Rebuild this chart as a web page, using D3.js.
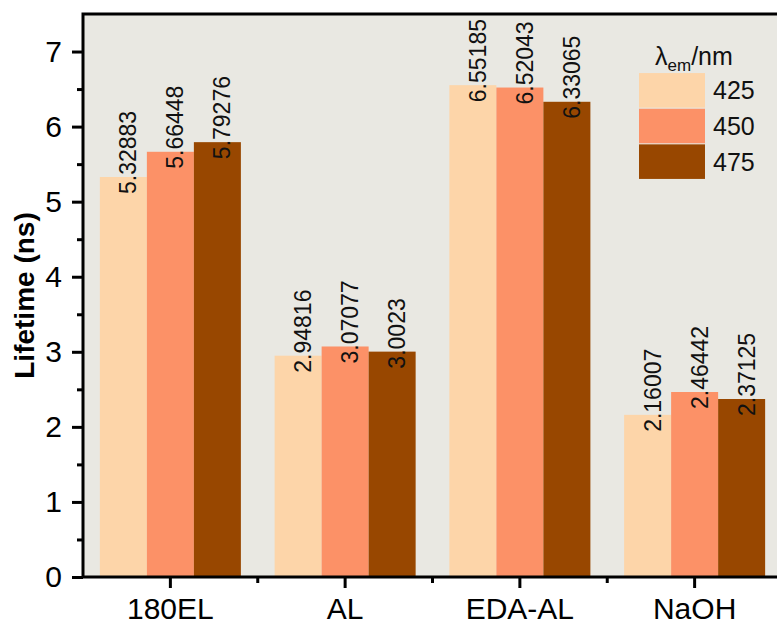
<!DOCTYPE html>
<html>
<head>
<meta charset="utf-8">
<script src="https://cdn.jsdelivr.net/npm/d3@7"></script>
<style>
  html, body { margin: 0; padding: 0; background: #ffffff; }
  svg { display: block; font-family: "Liberation Sans", Arial, Helvetica, sans-serif; }
</style>
</head>
<body>
<svg id="chart" width="777" height="624"></svg>
<script>
// Fluorescence lifetimes per sample at three emission wavelengths
const categories = ["180EL", "AL", "EDA-AL", "NaOH"];
const wavelengths = ["425", "450", "475"];
const lifetime425 = [5.32883, 2.94816, 6.55185, 2.16007];
const lifetime450 = [5.66448, 3.07077, 6.52043, 2.46442];
const lifetime475 = [5.79276, 3.0023, 6.33065, 2.37125];
const labels425 = ["5.32883", "2.94816", "6.55185", "2.16007"];
const labels450 = ["5.66448", "3.07077", "6.52043", "2.46442"];
const labels475 = ["5.79276", "3.0023", "6.33065", "2.37125"];
const yMajorTicks = [0, 1, 2, 3, 4, 5, 6, 7];
const yMinorTicks = [0.5, 1.5, 2.5, 3.5, 4.5, 5.5, 6.5];

const seriesValues = [lifetime425, lifetime450, lifetime475];
const seriesLabels = [labels425, labels450, labels475];
const colors = ["#fdd5a9", "#fc9167", "#984700"];

const svg = d3.select("#chart");
const plot = { left: 83, right: 782, top: 14, bottom: 577 };

const x = d3.scaleBand()
  .domain(categories)
  .range([plot.left, plot.right])
  .paddingInner(0.193)
  .paddingOuter(0.0965);

const xSub = d3.scaleBand()
  .domain(wavelengths)
  .range([0, x.bandwidth()])
  .padding(0);

const y = d3.scaleLinear()
  .domain([0, 7.5])
  .range([plot.bottom, plot.top]);

// plot background
svg.append("rect")
  .attr("x", plot.left).attr("y", plot.top)
  .attr("width", plot.right - plot.left).attr("height", plot.bottom - plot.top)
  .attr("fill", "#e9e8e2");

// bars
const rows = [];
categories.forEach((c, i) => {
  wavelengths.forEach((w, j) => {
    rows.push({ cat: c, wl: w, value: seriesValues[j][i], label: seriesLabels[j][i], color: colors[j] });
  });
});

svg.append("g").selectAll("rect")
  .data(rows)
  .join("rect")
  .attr("x", d => x(d.cat) + xSub(d.wl))
  .attr("y", d => y(d.value))
  .attr("width", xSub.bandwidth())
  .attr("height", d => y(0) - y(d.value))
  .attr("fill", d => d.color);

// rotated value labels
svg.append("g").selectAll("text")
  .data(rows)
  .join("text")
  .attr("transform", d => {
    const cx = x(d.cat) + xSub(d.wl) + xSub.bandwidth() / 2 + 5;
    const cy = y(d.value) + 17;
    return `translate(${cx},${cy}) rotate(-90)`;
  })
  .attr("text-anchor", "start")
  .attr("dominant-baseline", "central")
  .attr("font-size", 23)
  .attr("fill", "#111")
  .text(d => d.label);

// y axis
const yAxis = svg.append("g")
  .attr("transform", `translate(${plot.left},0)`)
  .call(d3.axisLeft(y).tickValues(yMajorTicks).tickSize(11).tickPadding(10).tickFormat(d3.format("d")));
yAxis.selectAll("text").attr("font-size", 30).attr("fill", "#000").attr("font-family", "Liberation Sans, Arial, sans-serif");
yAxis.select(".domain").remove();
yAxis.selectAll("line").attr("stroke", "#000").attr("stroke-width", 3);

const yMinor = svg.append("g")
  .attr("transform", `translate(${plot.left},0)`)
  .call(d3.axisLeft(y).tickValues(yMinorTicks).tickSize(6).tickFormat(""));
yMinor.select(".domain").remove();
yMinor.selectAll("line").attr("stroke", "#000").attr("stroke-width", 3);

// x axis
const xAxis = svg.append("g")
  .attr("transform", `translate(0,${plot.bottom})`)
  .call(d3.axisBottom(x).tickSize(11).tickPadding(10));
xAxis.selectAll("text").attr("font-size", 30).attr("fill", "#000").attr("font-family", "Liberation Sans, Arial, sans-serif");
xAxis.select(".domain").remove();
xAxis.selectAll("line").attr("stroke", "#000").attr("stroke-width", 3);

// minor ticks between categories
const boundaries = categories.slice(1).map(c => x(c) - x.step() * x.paddingInner() / 2);
svg.append("g").selectAll("line")
  .data(boundaries)
  .join("line")
  .attr("x1", d => d).attr("x2", d => d)
  .attr("y1", plot.bottom).attr("y2", plot.bottom + 6)
  .attr("stroke", "#000").attr("stroke-width", 3);

// frame
svg.append("rect")
  .attr("x", plot.left).attr("y", plot.top)
  .attr("width", plot.right - plot.left).attr("height", plot.bottom - plot.top)
  .attr("fill", "none").attr("stroke", "#000").attr("stroke-width", 3);

// y axis title
svg.append("text")
  .attr("transform", `translate(24,${(plot.top + plot.bottom) / 2}) rotate(-90)`)
  .attr("text-anchor", "middle")
  .attr("dominant-baseline", "central")
  .attr("font-size", 28)
  .attr("font-weight", "bold")
  .text("Lifetime (ns)");

// legend
const legend = svg.append("g");
const title = legend.append("text")
  .attr("x", 655).attr("y", 65)
  .attr("font-size", 25)
  .attr("fill", "#111");
title.append("tspan").text("λ");
title.append("tspan").attr("dy", 6).attr("font-size", 17).text("em");
title.append("tspan").attr("dy", -6).text("/nm");

const swatchY = d3.scaleBand().domain(wavelengths).range([72, 180]).padding(0.03);
legend.selectAll("rect")
  .data(wavelengths)
  .join("rect")
  .attr("x", 639)
  .attr("y", d => swatchY(d))
  .attr("width", 66)
  .attr("height", swatchY.bandwidth())
  .attr("fill", (d, i) => colors[i]);

legend.selectAll("text.lab")
  .data(wavelengths)
  .join("text")
  .attr("class", "lab")
  .attr("x", 713)
  .attr("y", d => swatchY(d) + swatchY.bandwidth() / 2)
  .attr("dominant-baseline", "central")
  .attr("font-size", 25)
  .attr("fill", "#111")
  .text(d => d);
</script>
</body>
</html>
